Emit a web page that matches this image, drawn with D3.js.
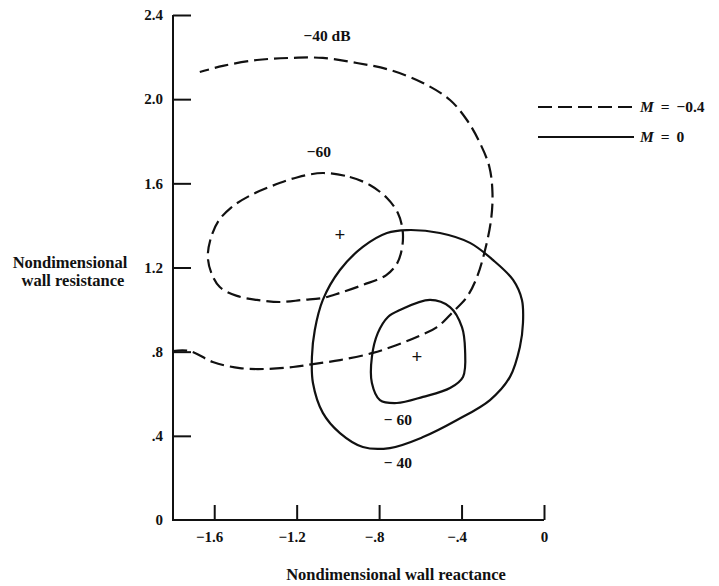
<!DOCTYPE html>
<html><head><meta charset="utf-8">
<script src="https://cdn.jsdelivr.net/npm/d3@7"></script>
<style>
html,body{margin:0;padding:0;background:#fff;}
svg{display:block;}
text{font-family:"Liberation Serif","DejaVu Serif",serif;font-weight:bold;fill:#111;}
</style></head>
<body>
<svg id="chart" width="719" height="586"></svg>
<script>
// ---- data ----
const xTicks = [-1.6, -1.2, -0.8, -0.4, 0];
const xTickLabels = ["−1.6", "−1.2", "−.8", "−.4", "0"];
const yTicks = [0.4, 0.8, 1.2, 1.6, 2.0, 2.4];
const yTickLabels = ["0", ".4", ".8", "1.2", "1.6", "2.0", "2.4"];
const yLabelValues = [0, 0.4, 0.8, 1.2, 1.6, 2.0, 2.4];

// M = -0.4, -40 dB contour (open, leaves plot to the left)
const m04_40 = [
  [-1.80,0.803],[-1.718,0.803],[-1.607,0.751],[-1.476,0.722],[-1.345,0.718],[-1.218,0.727],
  [-1.121,0.741],[-0.990,0.760],[-0.830,0.794],[-0.714,0.832],[-0.617,0.870],[-0.519,0.917],
  [-0.442,0.989],[-0.374,1.060],[-0.325,1.155],[-0.286,1.283],[-0.257,1.426],[-0.250,1.554],
  [-0.265,1.678],[-0.311,1.792],[-0.374,1.901],[-0.456,1.996],[-0.587,2.077],[-0.748,2.139],
  [-0.908,2.172],[-1.073,2.196],[-1.233,2.196],[-1.393,2.186],[-1.558,2.158],[-1.670,2.129]
];
// M = -0.4, -60 dB contour (closed)
const m04_60 = [
  [-1.073,1.649],[-0.942,1.630],[-0.845,1.592],[-0.762,1.530],[-0.709,1.459],[-0.686,1.378],
  [-0.688,1.298],[-0.712,1.221],[-0.765,1.164],[-0.879,1.117],[-0.990,1.079],[-1.073,1.055],
  [-1.170,1.046],[-1.282,1.036],[-1.393,1.046],[-1.490,1.065],[-1.573,1.107],[-1.614,1.174],
  [-1.631,1.250],[-1.619,1.331],[-1.580,1.420],[-1.518,1.485],[-1.430,1.540],[-1.316,1.589],
  [-1.199,1.628]
];
// M = 0, -40 dB contour (closed)
const m0_40 = [
  [-0.665,1.378],[-0.505,1.364],[-0.359,1.317],[-0.248,1.236],[-0.150,1.141],[-0.107,1.046],
  [-0.102,0.936],[-0.117,0.822],[-0.165,0.680],[-0.262,0.570],[-0.422,0.475],[-0.587,0.394],
  [-0.748,0.342],[-0.879,0.347],[-0.990,0.413],[-1.073,0.509],[-1.121,0.651],[-1.126,0.775],
  [-1.112,0.903],[-1.073,1.046],[-0.990,1.188],[-0.879,1.298],[-0.762,1.364]
];
// M = 0, -60 dB contour (closed)
const m0_60 = [
  [-0.699,0.998],[-0.553,1.046],[-0.456,1.012],[-0.398,0.917],[-0.383,0.808],[-0.393,0.680],
  [-0.456,0.627],[-0.587,0.585],[-0.714,0.556],[-0.796,0.570],[-0.835,0.651],[-0.835,0.775],
  [-0.806,0.889],[-0.757,0.965]
];
// optimum points (+)
const optima = [[-0.990,1.359],[-0.617,0.779]];
// contour labels
const contourLabels = [
  {text:"−40 dB", x:-1.053, y:2.30},
  {text:"−60", x:-1.092, y:1.749},
  {text:"− 60", x:-0.709, y:0.475},
  {text:"− 40", x:-0.709, y:0.271}
];
const legendItems = [
  {label:" = −0.4", dashed:true},
  {label:" = 0", dashed:false}
];

// ---- drawing ----
const svg = d3.select("#chart");
const x = d3.scaleLinear().domain([-1.8, 0]).range([173, 544]);
const y = d3.scaleLinear().domain([0, 2.4]).range([520, 15]);
const DASH = "14,6";

// axes
const gx = svg.append("g").attr("transform", `translate(0,${y(0)})`)
  .call(d3.axisBottom(x).tickValues(xTicks).tickSizeInner(-15).tickSizeOuter(0).tickFormat((d,i)=>xTickLabels[i]));
gx.select(".domain").attr("stroke","#111").attr("stroke-width",2).attr("d",`M${x(-1.8)},0H${x(0)}`);
gx.selectAll(".tick line").attr("stroke","#111").attr("stroke-width",2);
gx.selectAll(".tick text").attr("y",22).attr("dy","0").attr("font-size",15)
  .attr("dx",(d)=> d<0 ? -5 : 0).attr("fill","#111");

const gy = svg.append("g").attr("transform", `translate(${x(-1.8)},0)`)
  .call(d3.axisLeft(y).tickValues(yTicks).tickSizeInner(-18).tickSizeOuter(0).tickFormat(""));
gy.select(".domain").attr("stroke","#111").attr("stroke-width",2).attr("d",`M0,${y(0)+1}V${y(2.4)}`);
gy.selectAll(".tick line").attr("stroke","#111").attr("stroke-width",2);
svg.append("g").selectAll("text").data(yLabelValues).join("text")
  .attr("x", 163).attr("y", d=>y(d)).attr("dy","0.35em")
  .attr("text-anchor","end").attr("font-size",15).text((d,i)=>yTickLabels[i]);

// axis titles
svg.append("text").attr("x",396).attr("y",580).attr("text-anchor","middle")
  .attr("font-size",16.5).text("Nondimensional wall reactance");
svg.append("text").attr("x",70).attr("y",268).attr("text-anchor","middle")
  .attr("font-size",16.5).text("Nondimensional");
svg.append("text").attr("x",73).attr("y",286).attr("text-anchor","middle")
  .attr("font-size",16.5).text("wall resistance");

// contours
const open = d3.line().x(d=>x(d[0])).y(d=>y(d[1])).curve(d3.curveCatmullRom.alpha(0.5));
const closed = d3.line().x(d=>x(d[0])).y(d=>y(d[1])).curve(d3.curveCatmullRomClosed.alpha(0.5));
const g = svg.append("g").attr("fill","none").attr("stroke","#111").attr("stroke-width",2.2);
g.append("path").attr("d", open(m04_40)).attr("stroke-dasharray",DASH);
g.append("path").attr("d", closed(m04_60)).attr("stroke-dasharray",DASH);
g.append("path").attr("d", closed(m0_40));
g.append("path").attr("d", closed(m0_60));

// optimum markers
svg.append("g").selectAll("text").data(optima).join("text")
  .attr("x",d=>x(d[0])).attr("y",d=>y(d[1])).attr("dy","0.35em")
  .attr("text-anchor","middle").attr("font-size",19).attr("font-weight","normal").text("+");

// contour labels
svg.append("g").selectAll("text").data(contourLabels).join("text")
  .attr("x",d=>x(d.x)).attr("y",d=>y(d.y)).attr("dy","0.35em")
  .attr("text-anchor","middle").attr("font-size",15.5).text(d=>d.text);

// legend
const lg = svg.append("g");
legendItems.forEach((it,i)=>{
  const yy = 107 + i*30;
  lg.append("line").attr("x1",538).attr("x2",634).attr("y1",yy).attr("y2",yy)
    .attr("stroke","#111").attr("stroke-width",2.2)
    .attr("stroke-dasharray", it.dashed ? DASH : null);
  const t = lg.append("text").attr("x",640).attr("y",yy).attr("dy","0.35em")
    .attr("font-size",15.5).attr("word-spacing","3px");
  t.append("tspan").attr("font-style","italic").text("M");
  t.append("tspan").text(it.label);
});
</script>
</body></html>
